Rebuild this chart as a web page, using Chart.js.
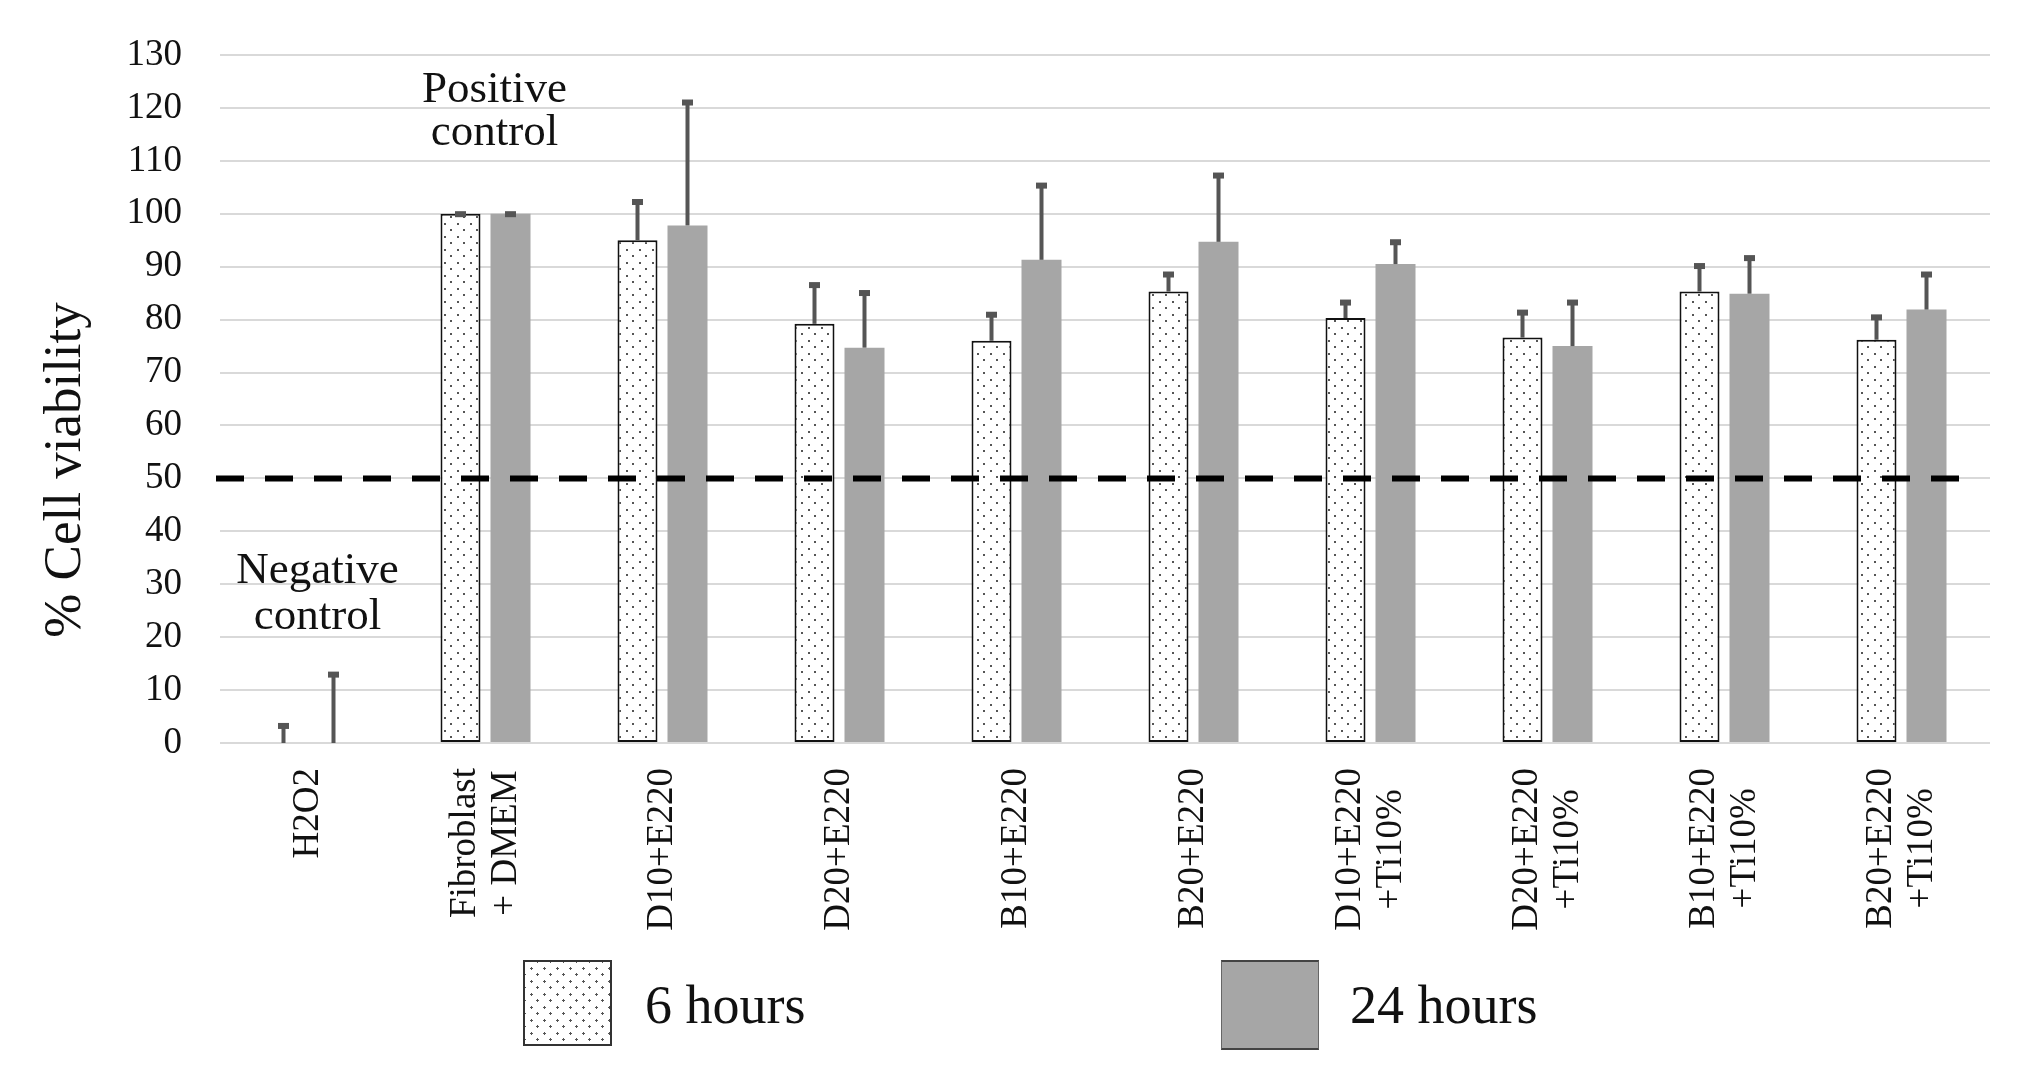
<!DOCTYPE html>
<html>
<head>
<meta charset="utf-8">
<script src="https://cdn.jsdelivr.net/npm/chart.js@4.4.0/dist/chart.umd.min.js"></script>
<style>
  body { margin: 0; background: #fff; }
  #wrap { position: relative; width: 2020px; height: 1082px; }
  .sw { position: absolute; box-sizing: border-box; }
  .key { position: absolute; font-family: "Liberation Serif", serif; font-size: 54px; line-height: 1; color: #111; white-space: nowrap; }
</style>
</head>
<body>
<div id="wrap">
  <canvas id="chart" width="2020" height="1082"></canvas>
  <div id="legend"></div>
</div>
<script>
const categories = [
  ["H2O2"],
  ["Fibroblast", "+ DMEM"],
  ["D10+E220"],
  ["D20+E220"],
  ["B10+E220"],
  ["B20+E220"],
  ["D10+E220", "+Ti10%"],
  ["D20+E220", "+Ti10%"],
  ["B10+E220", "+Ti10%"],
  ["B20+E220", "+Ti10%"]
];
const seriesNames = ["6 hours", "24 hours"];
const sixHours = [0, 100, 95.0, 79.2, 76.0, 85.3, 80.3, 76.6, 85.3, 76.2];
const sixHoursErr = [3.6, 0.3, 7.6, 7.7, 5.3, 3.6, 3.3, 5.1, 5.2, 4.6];
const dayValues = [0, 100, 97.8, 74.7, 91.3, 94.7, 90.5, 75.0, 84.9, 81.9];
const dayErr = [13.3, 0.3, 23.6, 10.7, 14.4, 12.9, 4.5, 8.6, 7.1, 7.0];
const yTicks = [0, 10, 20, 30, 40, 50, 60, 70, 80, 90, 100, 110, 120, 130];
const threshold = 50;
const notes = [
  { cat: 0, lines: ["Negative", "control"], y: [32.4, 23.7] },
  { cat: 1, lines: ["Positive", "control"], y: [123.3, 115.2] }
];

const FONT = '"Liberation Serif", "Times New Roman", serif';
const GREY = '#a6a6a6';
const ERR = '#555555';

// dotted fill for the 6 hour bars
function dots() {
  const t = document.createElement('canvas');
  t.width = 13; t.height = 13;
  const c = t.getContext('2d');
  c.fillStyle = '#fff';
  c.fillRect(0, 0, 13, 13);
  c.fillStyle = '#555';
  c.fillRect(2, 2, 2, 2);
  c.fillRect(8, 8, 2, 2);
  return document.getElementById('chart').getContext('2d').createPattern(t, 'repeat');
}

const errors = [sixHoursErr, dayErr];

const extras = {
  id: 'extras',
  afterDatasetsDraw(chart) {
    const ctx = chart.ctx;
    const y = chart.scales.y;
    ctx.save();
    chart.data.datasets.forEach((ds, i) => {
      chart.getDatasetMeta(i).data.forEach((bar, j) => {
        const top = y.getPixelForValue(ds.data[j] + errors[i][j]);
        const base = y.getPixelForValue(ds.data[j]);
        ctx.strokeStyle = ERR;
        ctx.lineWidth = 4;
        ctx.beginPath();
        ctx.moveTo(bar.x, base);
        ctx.lineTo(bar.x, top);
        ctx.stroke();
        ctx.fillStyle = ERR;
        ctx.fillRect(bar.x - 5.5, top - 1, 11, 6);
      });
    });
    ctx.restore();
  },
  afterDraw(chart) {
    const ctx = chart.ctx;
    const x = chart.scales.x;
    const y = chart.scales.y;
    const area = chart.chartArea;
    ctx.save();

    // 50% line
    const ty = y.getPixelForValue(threshold);
    ctx.strokeStyle = '#000';
    ctx.lineWidth = 6;
    ctx.setLineDash([28, 21]);
    ctx.beginPath();
    ctx.moveTo(area.left - 4, ty);
    ctx.lineTo(area.right - 16, ty);
    ctx.stroke();
    ctx.setLineDash([]);

    // category labels, rotated
    ctx.fillStyle = '#111';
    ctx.font = '37px ' + FONT;
    ctx.textAlign = 'center';
    ctx.textBaseline = 'middle';
    categories.forEach((lines, i) => {
      const w = Math.max(...lines.map(s => ctx.measureText(s).width));
      const px = x.getPixelForTick(i);
      ctx.save();
      ctx.translate(px, area.bottom + 25 + w / 2);
      ctx.rotate(-Math.PI / 2);
      lines.forEach((s, k) => {
        ctx.fillText(s, 0, (k - (lines.length - 1) / 2) * 41);
      });
      ctx.restore();
    });

    // axis title
    ctx.font = '53px ' + FONT;
    ctx.save();
    ctx.translate(66, 470);
    ctx.rotate(-Math.PI / 2);
    ctx.fillText('% Cell viability', 0, 0);
    ctx.restore();

    // control notes
    ctx.font = '45px ' + FONT;
    notes.forEach(n => {
      n.lines.forEach((s, k) => {
        ctx.fillText(s, x.getPixelForValue(n.cat) + 9, y.getPixelForValue(n.y[k]));
      });
    });
    ctx.restore();
  }
};

const pattern = dots();

new Chart(document.getElementById('chart'), {
  type: 'bar',
  data: {
    labels: categories,
    datasets: [
      {
        label: seriesNames[0],
        data: sixHours,
        backgroundColor: pattern,
        borderColor: '#111',
        borderWidth: 2,
        borderSkipped: false,
        categoryPercentage: 0.565,
        barPercentage: 0.8
      },
      {
        label: seriesNames[1],
        data: dayValues,
        backgroundColor: GREY,
        borderWidth: 0,
        categoryPercentage: 0.565,
        barPercentage: 0.8
      }
    ]
  },
  options: {
    responsive: false,
    animation: false,
    devicePixelRatio: 1,
    layout: { padding: { top: 55, right: 30, left: 0, bottom: 0 } },
    plugins: { legend: { display: false }, tooltip: { enabled: false } },
    scales: {
      x: {
        grid: { display: false },
        border: { display: false },
        ticks: { display: false },
        afterFit(scale) { scale.height = 339; }
      },
      y: {
        min: 0,
        max: 130,
        afterBuildTicks(scale) { scale.ticks = yTicks.map(v => ({ value: v })); },
        afterFit(scale) {
          scale.width = 220;
          scale.paddingTop = 0;
          scale.paddingBottom = 0;
        },
        grid: { color: '#d9d9d9', lineWidth: 2, drawTicks: false },
        border: { display: false },
        ticks: { color: '#111', padding: 38, font: { family: FONT, size: 37 } }
      }
    }
  },
  plugins: [extras]
});

// legend underneath
const legend = document.getElementById('legend');
const keys = [
  { left: 523, w: 89, h: 86, text: 645, style: 'background-color:#fff;background-image:radial-gradient(circle,#555 1px,transparent 1.4px),radial-gradient(circle,#555 1px,transparent 1.4px);background-size:13px 13px;background-position:0 0,6px 6px;border:2px solid #333;' },
  { left: 1221, w: 98, h: 90, text: 1350, style: 'background:' + GREY + ';border:1px solid #666;border-top:2px solid #444;border-bottom:2px solid #444;' }
];
keys.forEach((k, i) => {
  const sw = document.createElement('div');
  sw.className = 'sw';
  sw.style.cssText = 'left:' + k.left + 'px;top:960px;width:' + k.w + 'px;height:' + k.h + 'px;' + k.style;
  legend.appendChild(sw);
  const t = document.createElement('div');
  t.className = 'key';
  t.style.left = k.text + 'px';
  t.style.top = '978px';
  t.textContent = seriesNames[i];
  legend.appendChild(t);
});
</script>
</body>
</html>
